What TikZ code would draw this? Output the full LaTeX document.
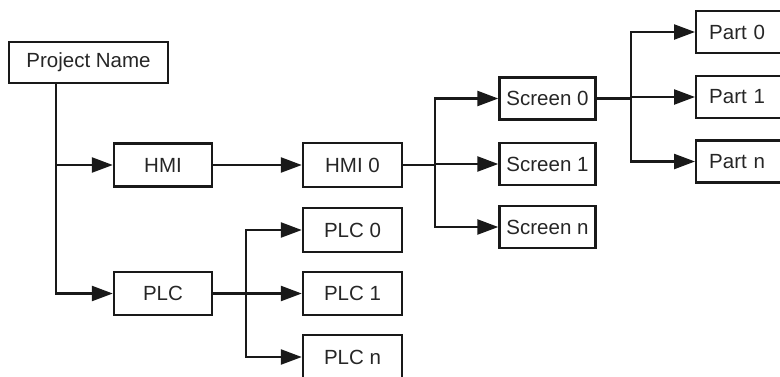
\documentclass[tikz,border=0pt]{standalone}
\usepackage{fontspec}
\setmainfont{Liberation Sans}
\usetikzlibrary{arrows.meta}
\tikzset{
  box/.style={draw=black!90, line width=2.4pt, inner sep=0pt, font=\fontsize{20.5}{25}\selectfont, text=black!85},
  arr/.style={line width=2.4pt, draw=black!90, -{Triangle[length=21pt,width=15pt]}},
  conn/.style={line width=2.4pt, draw=black!90},
}
\begin{document}
\begin{tikzpicture}[x=1pt,y=-1pt]
\useasboundingbox (0,0) rectangle (780,376);
\clip (0,0) rectangle (780,376);
% nodes
\node[box, minimum width=159pt, minimum height=41pt] (PN) at (88.5,62.5) {Project Name};
\node[box, minimum width=98pt, minimum height=43pt] (HMI) at (163,165) {HMI};
\node[box, minimum width=98pt, minimum height=43pt] (PLC) at (163,293.5) {PLC};
\node[box, minimum width=99pt, minimum height=44pt] (HMI0) at (352.5,165) {HMI 0};
\node[box, minimum width=96pt, minimum height=42pt] (S0) at (547.5,98.5) {Screen 0};
\node[box, minimum width=96pt, minimum height=42pt] (S1) at (547.5,164) {Screen 1};
\node[box, minimum width=96pt, minimum height=42pt] (Sn) at (547.5,227) {Screen n};
\node[box, anchor=west, text width=84pt, align=left, inner xsep=13pt, minimum height=42pt] (P0) at (695,32) {Part 0};
\node[box, anchor=west, text width=84pt, align=left, inner xsep=13pt, minimum height=42pt] (P1) at (695,97) {Part 1};
\node[box, anchor=west, text width=84pt, align=left, inner xsep=13pt, minimum height=42pt] (Pn) at (695,161.5) {Part n};
\node[box, minimum width=99pt, minimum height=44pt] (PLC0) at (352.5,230) {PLC 0};
\node[box, minimum width=99pt, minimum height=43pt] (PLC1) at (352.5,293.5) {PLC 1};
\node[box, minimum width=99pt, minimum height=44pt] (PLCn) at (352.5,357) {PLC n};
% branch points
\coordinate (t0) at (56,0);
\coordinate (b1) at (435,165);
\coordinate (b2) at (631,98.5);
\coordinate (b3) at (246,293.5);
% connectors
\draw[arr] (PN.south -| t0) |- (HMI.west);
\draw[arr] (PN.south -| t0) |- (PLC.west);
\draw[arr] (HMI) -- (HMI0);
\draw[conn] (HMI0.east) -- (b1);
\draw[arr] (b1) |- (S0.west);
\draw[arr] (b1) |- (S1.west);
\draw[arr] (b1) |- (Sn.west);
\draw[conn] (S0.east) -- (b2);
\draw[arr] (b2) |- (P0.west);
\draw[arr] (b2) |- (P1.west);
\draw[arr] (b2) |- (Pn.west);
\draw[conn] (PLC.east) -- (b3);
\draw[arr] (b3) |- (PLC0.west);
\draw[arr] (b3) |- (PLC1.west);
\draw[arr] (b3) |- (PLCn.west);
\end{tikzpicture}
\end{document}
